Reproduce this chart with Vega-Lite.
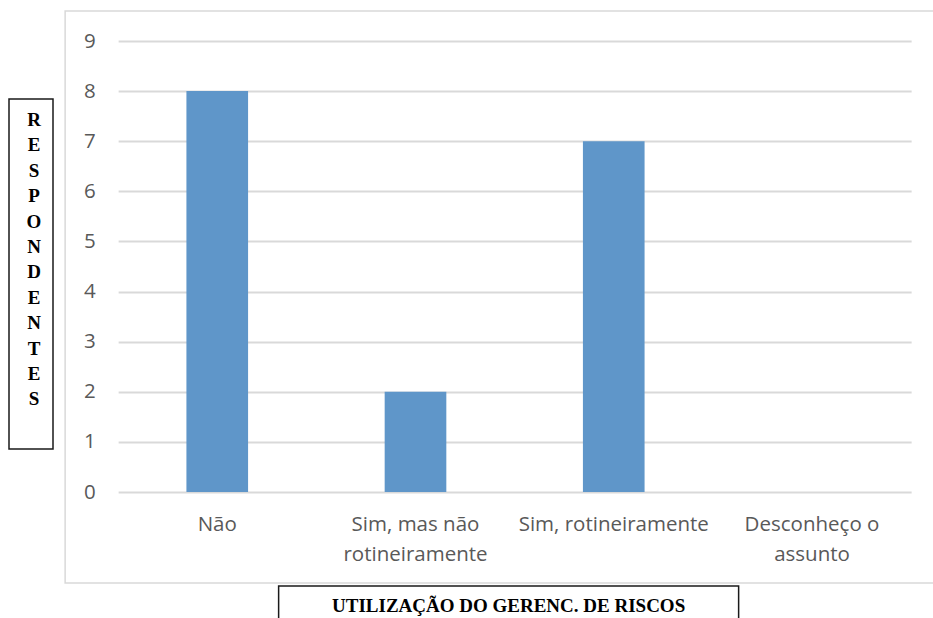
{
  "$schema": "https://vega.github.io/schema/vega-lite/v6.json",
  "background": "white",
  "padding": {"left": 8, "top": 10, "right": 0, "bottom": 0},
  "spacing": 10,
  "hconcat": [
    {
      "spacing": 0,
      "vconcat": [
        {
          "width": 44,
          "height": 87,
          "view": {"stroke": null},
          "data": {"values": []},
          "mark": "text"
        },
        {
          "width": 44,
          "height": 350,
          "view": {"stroke": "#1a1a1a", "strokeWidth": 1.5},
          "data": {"values": [{"rotulo": ["R", "E", "S", "P", "O", "N", "D", "E", "N", "T", "E", "S"]}]},
          "mark": {
            "type": "text",
            "font": "Liberation Serif",
            "fontWeight": "bold",
            "fontSize": 19,
            "lineHeight": 25.4,
            "baseline": "middle",
            "color": "#000000",
            "dx": 3,
            "dy": -154
          },
          "encoding": {"text": {"field": "rotulo", "type": "nominal"}}
        }
      ]
    },
    {
      "spacing": 1,
      "center": true,
      "vconcat": [
        {
          "width": 887,
          "height": 572,
          "view": {"stroke": "#d9d9d9", "strokeWidth": 1.5},
          "data": {
            "values": [
              {"resposta": "Não", "respondentes": 8},
              {"resposta": "Sim, mas não rotineiramente", "respondentes": 2},
              {"resposta": "Sim, rotineiramente", "respondentes": 7},
              {"resposta": "Desconheço o assunto", "respondentes": 0}
            ]
          },
          "mark": {"type": "bar", "color": "#5f96c9"},
          "encoding": {
            "x": {
              "field": "resposta",
              "type": "nominal",
              "sort": null,
              "scale": {"range": [53, 846], "paddingInner": 0.689, "paddingOuter": 0.3445},
              "axis": {
                "title": null,
                "orient": "bottom",
                "offset": -69,
                "domain": false,
                "ticks": false,
                "tickSize": 0,
                "grid": false,
                "labelPadding": 0,
                "labelAngle": 0,
                "labelAlign": "center",
                "labelBaseline": "top",
                "labelLineHeight": 30,
                "labelLimit": 0,
                "labelOverlap": false,
                "labelFont": "Open Sans",
                "labelFontSize": 20.5,
                "labelColor": "#595959",
                "labelExpr": "datum.value === 'Sim, mas não rotineiramente' ? ['Sim, mas não', 'rotineiramente'] : datum.value === 'Desconheço o assunto' ? ['Desconheço o', 'assunto'] : datum.value"
              }
            },
            "y": {
              "field": "respondentes",
              "type": "quantitative",
              "scale": {"domain": [0, 9], "range": [481, 30], "nice": false},
              "axis": {
                "title": null,
                "offset": -30,
                "values": [0, 1, 2, 3, 4, 5, 6, 7, 8, 9],
                "domain": false,
                "ticks": false,
                "tickSize": 0,
                "labelPadding": 0,
                "labelFont": "Open Sans",
                "labelFontSize": 20.5,
                "labelColor": "#595959",
                "grid": true,
                "gridColor": "#d9d9d9",
                "gridWidth": 2
              }
            }
          }
        },
        {
          "width": 460,
          "height": 40,
          "view": {"stroke": "#1a1a1a", "strokeWidth": 1.5},
          "data": {"values": [{"titulo": "UTILIZAÇÃO DO GERENC. DE RISCOS"}]},
          "mark": {
            "type": "text",
            "font": "Liberation Serif",
            "fontWeight": "bold",
            "fontSize": 19,
            "color": "#000000"
          },
          "encoding": {"text": {"field": "titulo", "type": "nominal"}}
        }
      ]
    }
  ]
}
